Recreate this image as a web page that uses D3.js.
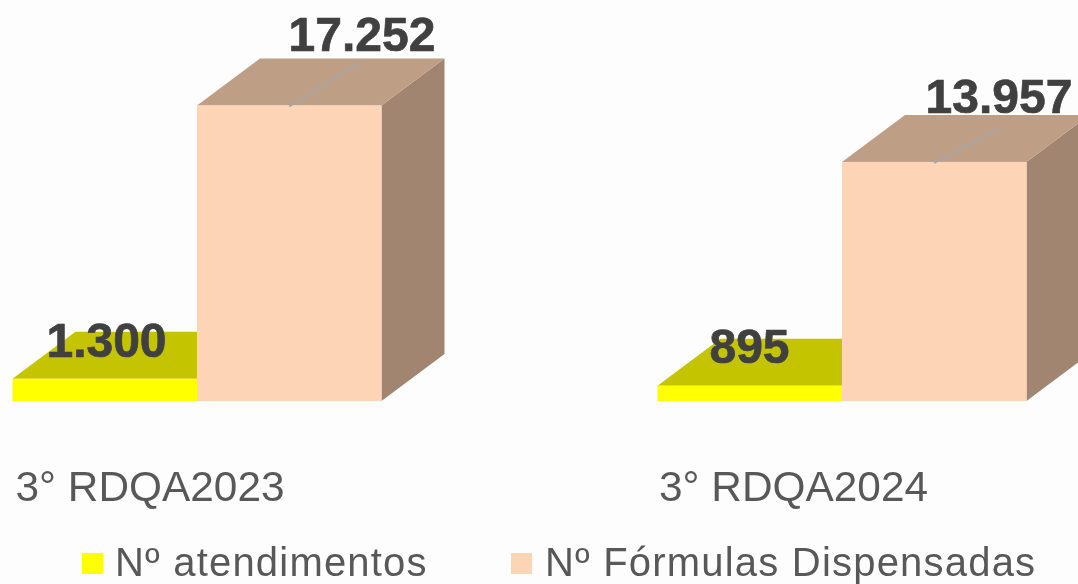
<!DOCTYPE html>
<html><head><meta charset="utf-8">
<script src="https://cdn.jsdelivr.net/npm/d3@7"></script>
<style>
html,body{margin:0;padding:0;background:#fdfdfd;overflow:hidden}
svg{display:block;font-family:"Liberation Sans",Arial,sans-serif}
</style></head><body>
<script>
const categories = ["3° RDQA2023", "3° RDQA2024"];
const seriesNames = ["Nº atendimentos", "Nº Fórmulas Dispensadas"];
const atendimentos = [1300, 895];
const formulas = [17252, 13957];
const valueLabels = [["1.300", "895"], ["17.252", "13.957"]];

const W = 1078, H = 584;
const depth = {dx: 63, dy: -47};
const colors = [
  {front: "#ffff00", top: "#c4c400", side: "#9c9c00"},
  {front: "#fdd4b5", top: "#be9f86", side: "#a2856f"}
];
const seriesValues = [atendimentos, formulas];

const x0 = d3.scaleBand().domain(categories).range([12.5, 1026.5]).paddingInner(276 / 645).paddingOuter(0);
const x1 = d3.scaleBand().domain(d3.range(seriesNames.length)).range([0, x0.bandwidth()]);
const y = d3.scaleLinear().domain([0, 17252]).range([401, 105.5]);

const svg = d3.select("body").append("svg").attr("width", W).attr("height", H).attr("viewBox", `0 0 ${W} ${H}`);
svg.append("defs").append("filter").attr("id", "soft").append("feGaussianBlur").attr("stdDeviation", 0.5);
const root = svg.append("g").attr("filter", "url(#soft)");
root.append("rect").attr("width", W).attr("height", H).attr("fill", "#fdfdfd");

const poly = pts => pts.map(p => p.join(",")).join(" ");

// value labels that sit behind the boxes are painted with them; 13.957 is tucked behind its box top
const labelOffset = [
  [{dx: 94, dy: -22}, {dx: 92, dy: -23}],
  [{dx: 165, dy: -55}, {dx: 157, dy: -48.5}]
];
function drawLabel(c, s) {
  const cat = categories[c], vals = seriesValues[s];
  root.append("text")
    .attr("x", x0(cat) + x1(s) + labelOffset[s][c].dx)
    .attr("y", y(vals[c]) + labelOffset[s][c].dy)
    .attr("text-anchor", "middle")
    .attr("font-size", 48).attr("font-weight", "bold").attr("fill", "#404040")
    .attr("stroke", "#404040").attr("stroke-width", 0.7)
    .text(valueLabels[s][c]);
}
drawLabel(1, 1);

categories.forEach((cat, c) => {
  seriesValues.forEach((vals, s) => {
    const xL = x0(cat) + x1(s), xR = xL + x1.bandwidth();
    const yT = y(vals[c]), yB = y(0);
    const g = root.append("g");
    g.append("polygon").attr("fill", colors[s].side)
      .attr("points", poly([[xR, yB], [xR + depth.dx, yB + depth.dy], [xR + depth.dx, yT + depth.dy], [xR, yT]]));
    g.append("polygon").attr("fill", colors[s].top)
      .attr("points", poly([[xL, yT], [xL + depth.dx, yT + depth.dy], [xR + depth.dx, yT + depth.dy], [xR, yT]]));
    g.append("rect").attr("x", xL).attr("y", yT).attr("width", xR - xL).attr("height", yB - yT).attr("fill", colors[s].front);
  });
});

// leader lines on the tall boxes
const leaderEnd = [{dx: 71, dy: -43}, {dx: 66, dy: -34}];
categories.forEach((cat, c) => {
  const xS = x0(cat) + x1(1) + x1.bandwidth() / 2;
  const yS = y(formulas[c]);
  root.append("line").attr("x1", xS).attr("y1", yS + 1)
    .attr("x2", xS + leaderEnd[c].dx).attr("y2", yS + leaderEnd[c].dy)
    .attr("stroke", "#a6a6a6").attr("stroke-width", 2);
});

drawLabel(0, 0);
drawLabel(1, 0);
drawLabel(0, 1);

// category labels
const catOffset = [3, 1.5];
categories.forEach((cat, c) => {
  root.append("text").attr("x", x0(cat) + catOffset[c]).attr("y", 501)
    .attr("font-size", 42.4).attr("fill", "#595959").text(cat);
});

// legend
const legX = [82, 511], legTextX = [115, 545];
seriesNames.forEach((n, i) => {
  root.append("rect").attr("x", legX[i]).attr("y", 553).attr("width", 21).attr("height", 21).attr("fill", colors[i].front);
  root.append("text").attr("x", legTextX[i]).attr("y", 576).attr("font-size", 40)
    .attr("letter-spacing", 1.2).attr("fill", "#595959").text(n);
});
</script>
</body></html>
